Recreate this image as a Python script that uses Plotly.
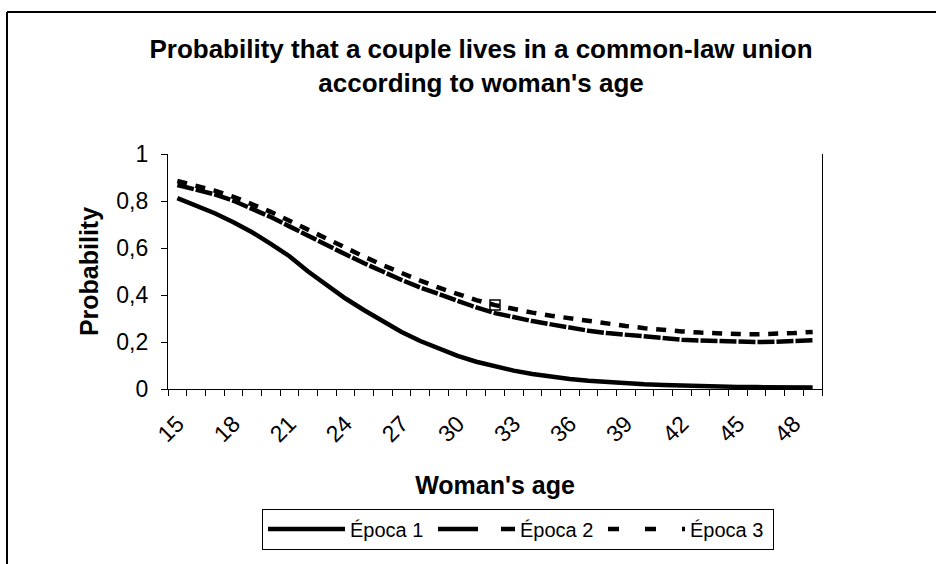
import plotly.graph_objects as go

ages = list(range(15, 50))
epoca1 = [0.812, 0.782, 0.748, 0.710, 0.667, 0.618, 0.565, 0.500, 0.440, 0.385,
          0.335, 0.287, 0.243, 0.204, 0.170, 0.141, 0.116, 0.095, 0.078, 0.064,
          0.052, 0.043, 0.035, 0.029, 0.024, 0.020, 0.017, 0.014, 0.012, 0.010,
          0.009, 0.008, 0.007, 0.006, 0.006]
epoca2 = [0.868, 0.850, 0.828, 0.801, 0.769, 0.732, 0.692, 0.651, 0.611, 0.573,
          0.535, 0.498, 0.464, 0.432, 0.402, 0.374, 0.347, 0.323, 0.305, 0.289,
          0.275, 0.260, 0.248, 0.238, 0.230, 0.222, 0.216, 0.210, 0.206, 0.203,
          0.201, 0.200, 0.201, 0.203, 0.207]
epoca3 = [0.885, 0.866, 0.844, 0.818, 0.788, 0.754, 0.716, 0.677, 0.638, 0.600,
          0.563, 0.527, 0.493, 0.461, 0.431, 0.403, 0.378, 0.357, 0.340, 0.325,
          0.312, 0.300, 0.289, 0.278, 0.268, 0.259, 0.251, 0.245, 0.240, 0.236,
          0.234, 0.233, 0.234, 0.238, 0.243]
series_names = ["Época 1", "Época 2", "Época 3"]
marker_age = 32

xtick_vals = list(range(15, 49, 3))
xtick_text = [str(v) for v in xtick_vals]
ytick_vals = [0, 0.2, 0.4, 0.6, 0.8, 1]
ytick_text = ["0", "0,2", "0,4", "0,6", "0,8", "1"]

FONT = "Arial, Liberation Sans, sans-serif"
LW = 4.5

fig = go.Figure()
# data lines (legend drawn via legend-only traces)
fig.add_trace(go.Scatter(x=ages, y=epoca1, mode="lines", showlegend=False,
                         line=dict(color="black", width=LW), hoverinfo="skip"))
fig.add_trace(go.Scatter(x=ages, y=epoca2, mode="lines", showlegend=False,
                         line=dict(color="black", width=LW, dash="17px,2px"), hoverinfo="skip"))
fig.add_trace(go.Scatter(x=ages, y=epoca3, mode="lines", showlegend=False,
                         line=dict(color="black", width=LW, dash="10px,8.7px"), hoverinfo="skip"))
mi = ages.index(marker_age)
fig.add_trace(go.Scatter(x=[ages[mi]], y=[epoca3[mi]], mode="markers", showlegend=False,
                         marker=dict(symbol="square-open", size=10, color="black",
                                     line=dict(width=1.5, color="black"))))
# legend entries
for name, dash in zip(series_names, ["solid", "40px,23px", "11px,26px"]):
    fig.add_trace(go.Scatter(x=[None], y=[None], mode="lines", name=name,
                             line=dict(color="black", width=LW, dash=dash)))

minor_ticks = [a - 0.5 for a in ages] + [ages[-1] + 0.5]

fig.update_layout(
    width=936, height=564,
    margin=dict(l=168, r=114, t=154, b=175),
    paper_bgcolor="white", plot_bgcolor="white",
    font=dict(family=FONT, color="black"),
    title=dict(text="Probability that a couple lives in a common-law union<br>according to woman's age",
               font=dict(size=26, family=FONT, color="black", weight="bold"),
               x=481/936, xanchor="center", xref="container",
               y=1 - 58/564, yanchor="middle", yref="container"),
    xaxis=dict(range=[14.5, 49.5], tickvals=xtick_vals, ticktext=xtick_text,
               tickangle=-45, ticks="", showgrid=False, zeroline=False,
               showline=True, linecolor="black", linewidth=1.2,
               tickfont=dict(size=23, family=FONT, color="black"),
               ticklabelstandoff=11,
               minor=dict(tickvals=minor_ticks, ticks="outside", ticklen=6,
                          tickcolor="black", tickwidth=1.2, showgrid=False),
               title=dict(text="<b>Woman's age</b>", font=dict(size=25, family=FONT, color="black"),
                          standoff=30)),
    yaxis=dict(range=[0, 1], tickvals=ytick_vals, ticktext=ytick_text,
               ticks="outside", ticklen=6, tickcolor="black", tickwidth=1.2,
               showgrid=False, zeroline=False, showline=True, linecolor="black",
               linewidth=1.2, mirror=True,
               tickfont=dict(size=23, family=FONT, color="black"),
               ticklabelstandoff=8,
               title=dict(text="<b>Probability</b>", font=dict(size=25, family=FONT, color="black"),
                          standoff=10)),
    legend=dict(orientation="h", x=(518-168)/654, xanchor="center",
                y=(389-529)/235, yanchor="middle",
                bordercolor="black", borderwidth=1, bgcolor="white",
                font=dict(size=20, family=FONT, color="black"),
                entrywidth=78, entrywidthmode="pixels", itemwidth=77),
    shapes=[
        dict(type="line", xref="paper", yref="paper",
             x0=(7-168)/654, x1=(7-168)/654, y0=(389-12)/235, y1=(389-600)/235,
             line=dict(color="black", width=2)),
        dict(type="line", xref="paper", yref="paper",
             x0=(7-168)/654, x1=(1000-168)/654, y0=(389-12)/235, y1=(389-12)/235,
             line=dict(color="black", width=2)),
    ],
)

fig.write_html("out.html", config={"displayModeBar": False},
               post_script="document.body.style.margin='0px';")
